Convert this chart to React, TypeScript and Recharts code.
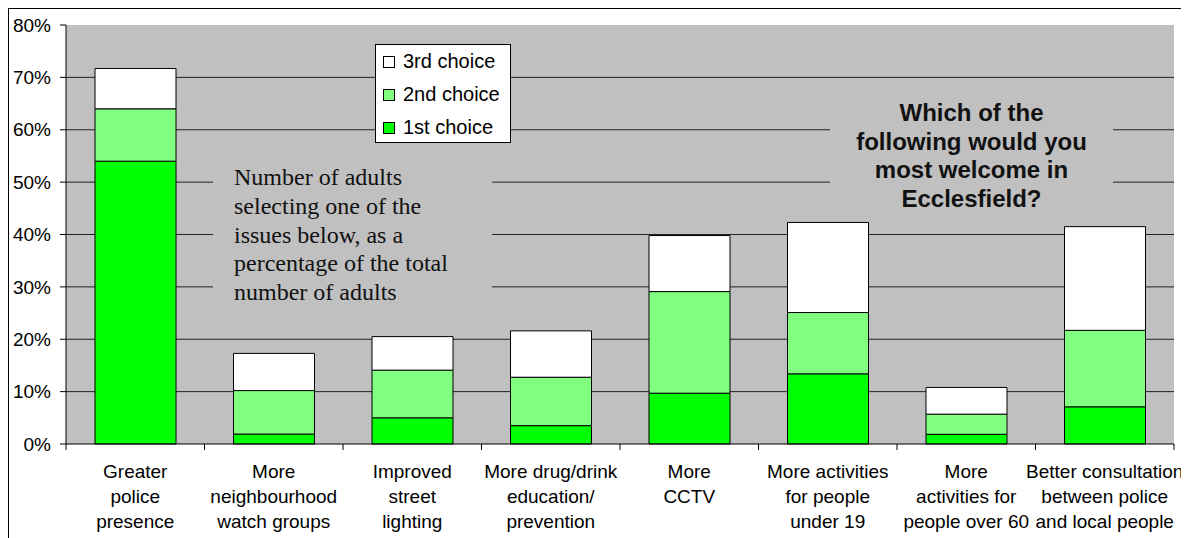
import React from "react";
import {
  BarChart,
  Bar,
  XAxis,
  YAxis,
  CartesianGrid,
  Legend,
} from "recharts";

// categories (line breaks as in the original axis labels)
const CATEGORIES = [
  "Greater\npolice\npresence",
  "More\nneighbourhood\nwatch groups",
  "Improved\nstreet\nlighting",
  "More drug/drink\neducation/\nprevention",
  "More\nCCTV",
  "More activities\nfor people\nunder 19",
  "More\nactivities for\npeople over 60",
  "Better consultation\nbetween police\nand local people",
];

// % of adults, stacked 1st / 2nd / 3rd choice
const FIRST = [54, 1.9, 5.0, 3.5, 9.7, 13.4, 1.85, 7.1];
const SECOND = [10, 8.3, 9.1, 9.25, 19.4, 11.7, 3.85, 14.6];
const THIRD = [7.7, 7.1, 6.4, 8.85, 10.7, 17.2, 5.1, 19.8];

const Y_TICKS = [0, 10, 20, 30, 40, 50, 60, 70, 80];
const GRID_VALUES = [10, 20, 30, 40, 50, 60, 70];

const TITLE_LINES = ["Which of the", "following would you", "most welcome in", "Ecclesfield?"];
const NOTE_LINES = [
  "Number of adults",
  "selecting one of the",
  "issues below, as a",
  "percentage of the total",
  "number of adults",
];

const data = CATEGORIES.map((name, i) => ({
  name,
  first: FIRST[i],
  second: SECOND[i],
  third: THIRD[i],
}));

const SANS = '"Liberation Sans", Arial, sans-serif';
const SERIF = '"Liberation Serif", "Times New Roman", serif';
const GRAY = "#C0C0C0";

const W = 1177;
const H = 550;
const MARGIN = { top: 16, right: 12, bottom: 0, left: 0 };
const Y_W = 57;
const BAND = (W - MARGIN.left - MARGIN.right - Y_W) / CATEGORIES.length;

function CategoryTick(props: any) {
  const { x, y, payload, index } = props;
  const lines = String(payload.value).split("\n");
  const last = index === CATEGORIES.length - 1;
  return (
    <g>
      <line x1={x - BAND / 2} x2={x - BAND / 2} y1={y} y2={y + 6} stroke="#000" />
      {last && <line x1={x + BAND / 2} x2={x + BAND / 2} y1={y} y2={y + 6} stroke="#000" />}
      {lines.map((l, i) => (
        <text
          key={i}
          x={x}
          y={y + 27 + i * 25}
          textAnchor="middle"
          dominantBaseline="central"
          fontFamily={SANS}
          fontSize={19}
          fill="#000"
        >
          {l}
        </text>
      ))}
    </g>
  );
}

function ChoiceLegend(props: any) {
  const items = [...(props.payload || [])].reverse();
  return (
    <div
      style={{
        width: 136,
        height: 99,
        boxSizing: "border-box",
        border: "1px solid #000",
        background: "#fff",
        fontFamily: SANS,
        fontSize: 20,
      }}
    >
      {items.map((it: any) => (
        <div key={it.value} style={{ height: 33, display: "flex", alignItems: "center", paddingLeft: 7 }}>
          <span
            style={{
              display: "inline-block",
              width: 10,
              height: 10,
              border: "1px solid #000",
              background: it.color,
              marginRight: 8,
            }}
          />
          <span style={{ whiteSpace: "nowrap", color: "#000" }}>{it.value}</span>
        </div>
      ))}
    </div>
  );
}

export default function App() {
  return (
    <div
      style={{
        position: "relative",
        width: W,
        height: H,
        border: "1px solid #000",
        background: "#fff",
      }}
    >
      <BarChart width={W} height={H} data={data} margin={MARGIN} barSize={81}>
        <CartesianGrid
          vertical={false}
          horizontalValues={GRID_VALUES}
          fill={GRAY}
          fillOpacity={1}
          stroke="#222"
        />
        <XAxis
          dataKey="name"
          height={H - 435 - MARGIN.top + 16}
          tickLine={false}
          tickSize={0}
          tickMargin={0}
          interval={0}
          axisLine={{ stroke: "#000" }}
          tick={<CategoryTick />}
        />
        <YAxis
          width={Y_W}
          domain={[0, 80]}
          ticks={Y_TICKS}
          interval={0}
          tickFormatter={(v: number) => `${v}%`}
          tickSize={6}
          tickMargin={9}
          axisLine={{ stroke: "#000" }}
          tickLine={{ stroke: "#000" }}
          tick={{ fontFamily: SANS, fontSize: 19, fill: "#000" }}
        />
        <Legend
          layout="vertical"
          align="center"
          verticalAlign="middle"
          wrapperStyle={{ left: 366, top: 35, width: 136, height: 99 }}
          content={<ChoiceLegend />}
        />
        <Bar dataKey="first" name="1st choice" stackId="a" fill="#00FF00" stroke="#000" isAnimationActive={false} />
        <Bar dataKey="second" name="2nd choice" stackId="a" fill="#80FF80" stroke="#000" isAnimationActive={false} />
        <Bar dataKey="third" name="3rd choice" stackId="a" fill="#FFFFFF" stroke="#000" isAnimationActive={false} />
      </BarChart>

      <div
        style={{
          position: "absolute",
          left: 204,
          top: 154,
          width: 279,
          boxSizing: "border-box",
          paddingLeft: 21,
          background: GRAY,
          fontFamily: SERIF,
          fontSize: 24,
          lineHeight: "28.8px",
          color: "#111",
          whiteSpace: "nowrap",
        }}
      >
        {NOTE_LINES.map((l) => (
          <div key={l}>{l}</div>
        ))}
      </div>

      <div
        style={{
          position: "absolute",
          left: 821,
          top: 90,
          width: 283,
          background: GRAY,
          fontFamily: SANS,
          fontWeight: "bold",
          fontSize: 24,
          lineHeight: "28.7px",
          textAlign: "center",
          color: "#111",
          whiteSpace: "nowrap",
        }}
      >
        {TITLE_LINES.map((l) => (
          <div key={l}>{l}</div>
        ))}
      </div>
    </div>
  );
}
